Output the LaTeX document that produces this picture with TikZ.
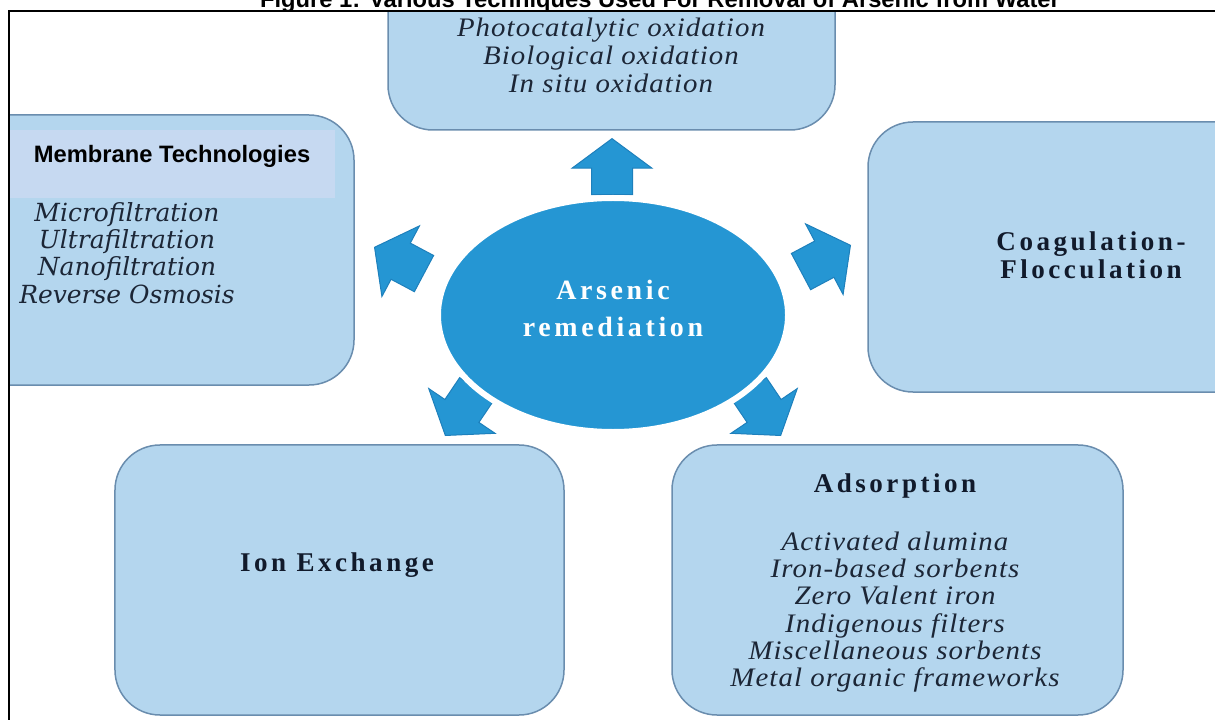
\documentclass[tikz,border=0pt]{standalone}
\usepackage{fontspec}
\setmainfont{Liberation Serif}
\setsansfont{Liberation Sans}
\newfontfamily\listfont[LetterSpace=4,FakeStretch=1.08]{Liberation Serif}
\newfontfamily\headfont[LetterSpace=13]{Liberation Serif}
\newfontfamily\filtfont{DejaVu Serif}
\usepackage{tikz}
\usetikzlibrary{shapes.geometric,shapes.arrows,positioning}

\definecolor{boxfill}{HTML}{B4D6EE}
\definecolor{boxedge}{HTML}{6A8DAE}
\definecolor{bandfill}{HTML}{C6D9F1}
\definecolor{arsblue}{HTML}{2596D3}
\definecolor{arsedge}{HTML}{1E80BC}
\definecolor{headink}{HTML}{111A2B}
\definecolor{itemink}{HTML}{1C2636}

\begin{document}
\begin{tikzpicture}[
 x=0.2mm,y=-0.2mm,
 techbox/.style={
  rectangle,
  rounded corners=9mm,
  draw=boxedge,
  fill=boxfill,
  line width=0.3mm,
  inner sep=0pt,
  minimum height=54mm
 },
 core/.style={
  ellipse,
  fill=arsblue,
  draw=white,
  line width=1.2mm,
  minimum width=70mm,
  minimum height=46.8mm,
  inner sep=0pt
 },
 pointer/.style={
  single arrow,
  fill=arsblue,
  draw=arsedge,
  line width=0.2mm,
  inner xsep=0pt,
  inner ysep=4mm,
  single arrow head extend=3.9mm,
  single arrow tip angle=107,
  minimum height=11.2mm,
  anchor=tip
 },
 listtext/.style={
  font=\listfont\itshape\fontsize{15.2pt}{15.5pt}\selectfont,
  text=itemink,
  align=center,
  inner sep=0pt
 },
 filttext/.style={
  font=\filtfont\itshape\fontsize{14.2pt}{15.5pt}\selectfont,
  text=itemink,
  align=center,
  inner sep=0pt
 },
 headtext/.style={
  font=\headfont\bfseries\fontsize{15.4pt}{16pt}\selectfont,
  text=headink,
  align=center,
  inner sep=0pt
 }
]
 \useasboundingbox (0,0) rectangle (1215,720);
 \clip (0,0) rectangle (1215,720);

 % caption, cut at the top edge
 \node[anchor=base,inner sep=0pt,
  font=\sffamily\bfseries\fontsize{13.5pt}{16pt}\selectfont] (caption)
  at (660,8) {Figure 1: Various Techniques Used For Removal of Arsenic from Water};

 \begin{scope}
  \clip (9,11) rectangle (1215,720);
  % technique boxes
  \node[techbox,minimum width=89.4mm,minimum height=34mm] (oxbox) at (611.5,45) {};
  \node[techbox,minimum width=78.8mm] (membox) at (157,250) {};
  \node[techbox,minimum width=90.4mm] (coagbox) at (1094,257) {};
  \node[techbox,minimum width=89.8mm] (ionbox) at (339.5,580) {};
  \node[techbox,minimum width=90.2mm] (adsbox) at (897.5,580) {};
  \node[fill=bandfill,minimum width=65.2mm,minimum height=13.6mm,inner sep=0pt]
   (memband) at (172,164) {};
 \end{scope}

 \draw[line width=0.45mm] (9,720) |- (1215,11);

 % texts in the boxes
 \node[listtext,font=\listfont\itshape\fontsize{15.2pt}{15.9pt}\selectfont]
  (oxlist) at (611,55)
  {Photocatalytic oxidation\\Biological oxidation\\In situ oxidation};
 \node[inner sep=0pt,font=\sffamily\bfseries\fontsize{13.5pt}{16pt}\selectfont]
  (memhead) at (172,156) {Membrane Technologies};
 \node[filttext] (memlist) at (127,253)
  {Microfiltration\\Ultrafiltration\\Nanofiltration\\Reverse Osmosis};
 \node[headtext] (coagtxt) at (1091,255) {Coagulation-\\Flocculation};
 \node[headtext] (iontxt) at (337,565) {Ion Exchange};
 \node[headtext] (adshead) at (895,486) {Adsorption};
 \node[listtext] (adslist) at (895,612)
  {Activated alumina\\Iron-based sorbents\\Zero Valent iron\\%
   Indigenous filters\\Miscellaneous sorbents\\Metal organic frameworks};

 % arrows out of the centre
 \node[pointer,rotate=90]  (toox)   at (612,138) {};
 \node[pointer,rotate=152] (tomem)  at (374,247) {};
 \node[pointer,rotate=28]  (tocoag) at (851,245) {};
 \node[pointer,rotate=236] (toion)  at (445,436) {};
 \node[pointer,rotate=304] (toads)  at (781,436) {};

 \node[core] (core) at (613,315) {};
 \node[headtext,text=white,
  font=\headfont\bfseries\fontsize{15.9pt}{21pt}\selectfont]
  (coretxt) at (613,308) {Arsenic\\remediation};
\end{tikzpicture}
\end{document}
